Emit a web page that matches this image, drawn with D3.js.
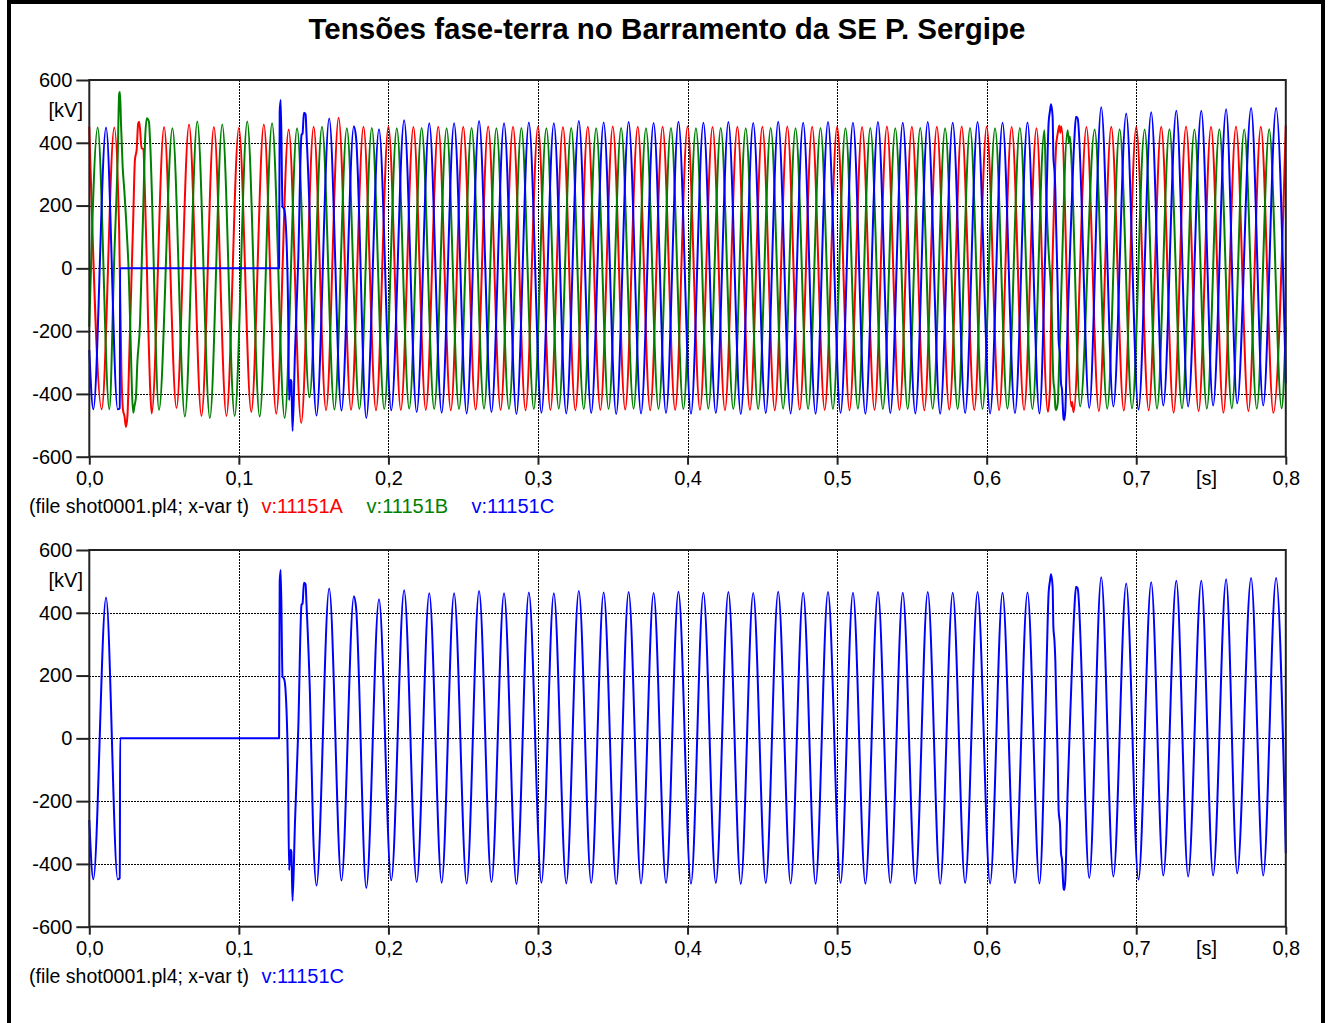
<!DOCTYPE html>
<html><head><meta charset="utf-8">
<script src="https://cdn.jsdelivr.net/npm/d3@7"></script>
<style>
body{margin:0;background:#fff}
svg text{font-family:"Liberation Sans",Arial,sans-serif}
</style>
</head><body>
<svg id="c" width="1328" height="1023"></svg>
<script>
const title = "Tensões fase-terra no Barramento da SE P. Sergipe";
const xTicks = [0,100,200,300,400,500,600,700,800];
const xTickLabels = ["0,0","0,1","0,2","0,3","0,4","0,5","0,6","0,7","0,8"];
const yTicks = [-600,-400,-200,0,200,400,600];
const yUnit = "[kV]";
const xUnit = "[s]";
const fileNote = "(file shot0001.pl4; x-var t)";
const seriesNames = ["v:11151A","v:11151B","v:11151C"];
const seriesColors = ["#ff0000","#008000","#0000ff"];

// [time ms, kV]
const phaseA = [
 [0,451],[8.3,-449],[16.7,449],[20.0,111],[21.5,-334],[22.5,-450],[23.5,-470],[24.5,-505],[25.5,-470],
 [26.9,-250],[28.3,-16],[29.4,164],[30.5,345],[31.7,380],[32.7,462],[33.4,467],[35.0,383],[36.1,380],
 [37.2,239],[38.4,26],[39.4,-186],[40.6,-372],[41.7,-462],
 [50.0,450],[58.3,-445],[66.7,458],[75.0,-470],[83.3,450],[91.7,-470],[100.0,447],[108.3,-458],
 [116.7,458],[125.0,-463],[133.3,442],[141.7,-493],[150.0,451],[158.3,-452],[166.7,480],[175.0,-451],
 [183.3,451],[191.7,-452],[200.0,452],[208.3,-451],[216.7,450],[225.0,-451],[233.3,451],[241.7,-452],
 [250.0,451],[258.3,-450],[266.7,452],[275.0,-451],[283.3,451],[291.7,-452],[300.0,451],[308.3,-451],
 [316.7,450],[325.0,-452],[333.3,451],[341.7,-451],[350.0,452],[358.3,-450],[366.7,451],[375.0,-452],
 [383.3,451],[391.7,-451],[400.0,452],[408.3,-451],[416.7,450],[425.0,-452],[433.3,451],[441.7,-451],
 [450.0,451],[458.3,-452],[466.7,452],[475.0,-450],[483.3,451],[491.7,-451],[500.0,451],[508.3,-452],
 [516.7,450],[525.0,-451],[533.3,452],[541.7,-451],[550.0,451],[558.3,-452],[566.7,451],[575.0,-450],
 [583.3,452],[591.7,-451],[600.0,451],[608.3,-452],[616.7,450],[625.0,-451],[633.3,446],
 [640.9,-457],[642.3,-388],[643.0,-175],[644.1,37],[645.3,249],[646.4,387],[647.5,430],[648.6,455],
 [649.3,432],[650.0,452],[656.6,-440],[657.1,-425],[658.1,-458],
 [666.7,450],[675.0,-455],[683.3,451],[691.7,-453],[700.0,450],[708.3,-452],[716.7,451],[725.0,-460],
 [733.3,452],[741.7,-455],[750.0,451],[758.3,-460],[766.7,452],[775.0,-455],[783.3,451],[791.7,-460],[800.0,455]
];
const phaseB = [
 [0,-186],[5.6,449],[13.4,-449],[16.7,37],[19.0,355],[20.0,557],[20.5,562],[21.2,462],[22.3,324],[23.4,249],
 [24.5,164],[25.7,58],[26.3,-6],[26.7,-69],[27.2,-154],[27.9,-281],[28.5,-388],[29.4,-460],[30.1,-441],
 [31.2,-409],[32.1,-303],[33.9,-175],[35.0,5],[36.1,196],[37.2,398],[38.4,478],[39.9,467],[40.6,409],
 [46.6,-451],[55.6,446],[63.9,-472],[72.2,468],[80.6,-477],[88.9,458],[97.2,-470],[105.6,468],[113.9,-472],
 [122.2,462],[130.6,-477],[138.9,446],[147.2,-411],[155.6,451],[163.9,-450],[172.2,446],[180.6,-448],
 [188.9,447],[197.2,-448],[205.6,446],[213.9,-447],[222.2,447],[230.6,-448],[238.9,446],[247.2,-448],
 [255.6,447],[263.9,-447],[272.2,446],[280.6,-448],[288.9,447],[297.2,-448],[305.6,446],[313.9,-447],
 [322.2,447],[330.6,-448],[338.9,446],[347.2,-448],[355.6,447],[363.9,-447],[372.2,446],[380.6,-448],
 [388.9,447],[397.2,-448],[405.6,446],[413.9,-447],[422.2,447],[430.6,-448],[438.9,446],[447.2,-448],
 [455.6,447],[463.9,-447],[472.2,446],[480.6,-448],[488.9,447],[497.2,-448],[505.6,446],[513.9,-447],
 [522.2,447],[530.6,-448],[538.9,446],[547.2,-448],[555.6,447],[563.9,-447],[572.2,446],[580.6,-448],
 [588.9,447],[597.2,-448],[605.6,446],[613.9,-447],[622.2,447],[630.6,-448],
 [638.6,440],[639.7,249],[640.8,112],[641.9,16],[643.0,-69],[643.7,-175],[644.1,-281],[644.6,-356],
 [645.3,-388],[645.9,-441],[646.4,-451],[647.5,-430],[648.6,-281],[654.1,440],[655.0,400],[655.6,420],[656.4,372],
 [662.5,-440],[672.2,442],[680.6,-447],[688.9,443],[697.2,-446],[705.6,442],[713.9,-447],[722.2,443],
 [730.6,-446],[738.9,442],[747.2,-447],[755.6,443],[763.9,-446],[772.2,442],[780.6,-447],[788.9,443],
 [797.2,-446],[800.0,-186]
];
const phaseC = [
 [0,-260],[2.7,-449],[11.2,449],[19.0,-449],[20.4,-445],[20.6,0],[126.9,0],[127.3,500],[128.0,536],[129.2,196],
 [130.2,190],[131.2,154],[132.9,-122],[133.6,-420],[134.5,-355],[135.1,-360],[135.9,-518],[137.5,-271],
 [139.7,26],[141.9,425],[142.6,430],[143.5,496],[144.6,491],[145.2,431],[147.5,147],[149.7,-305],[151.9,-469],
 [160.4,477],[168.6,-453],[176.9,453],[178.3,420],[185.2,-477],[193.7,443],[201.9,-452],[210.5,472],
 [218.9,-458],[227.3,462],[235.6,-460],[243.9,462],[252.3,-462],[260.6,469],[268.9,-458],[277.3,462],
 [285.6,-464],[293.9,465],[302.3,-460],[310.6,462],[318.9,-462],[327.3,469],[335.6,-461],[343.9,465],
 [352.3,-464],[360.6,466],[368.9,-462],[377.3,463],[385.6,-461],[393.9,467],[402.3,-463],[410.6,464],
 [418.9,-461],[427.3,466],[435.6,-464],[443.9,463],[452.3,-461],[460.6,467],[468.9,-462],[477.3,464],
 [485.6,-463],[493.9,466],[502.3,-461],[510.6,464],[518.9,-463],[527.3,466],[535.6,-461],[543.9,464],
 [552.3,-462],[560.6,466],[568.9,-463],[577.3,464],[585.6,-461],[593.9,466],[602.3,-462],[610.6,464],
 [618.9,-461],[627.3,465],[635.3,-462],
 [639.3,80],[640.8,376],[641.4,462],[642.4,504],[643.0,523],[644.1,483],[644.6,355],[645.3,313],[645.9,249],
 [646.4,143],[647.5,-69],[648.1,-228],[649.1,-281],[649.7,-366],[650.4,-388],[650.8,-430],[651.4,-478],
 [651.9,-483],[652.6,-451],[654.1,-175],[656.4,143],[658.6,409],[659.7,483],[660.8,478],
 [668.6,-445],[676.6,513],[684.7,-440],[693.3,493],[701.5,-450],[710.0,497],[718.1,-437],[726.8,502],
 [734.7,-440],[743.5,502],[751.4,-437],[760.1,507],[767.5,-430],[776.8,511],[784.9,-437],[793.5,511],[800.0,-366]
];

const svg = d3.select("#c");
const FONT = '"Liberation Sans",Arial,sans-serif';

// outer frame
svg.append("rect").attr("x",9).attr("y",2).attr("width",1314).attr("height",1040)
  .attr("fill","none").attr("stroke","#000").attr("stroke-width",4);

svg.append("text").attr("x",667).attr("y",38.5).attr("text-anchor","middle")
  .attr("font-size",29.5).attr("font-weight","bold").attr("fill","#000").text(title);

const x = d3.scaleLinear().domain([0,800]).range([89.3,1285.8]);
const px = v => Math.round(v) + 0.5;

function panel(top, bottom, series) {
  const y = d3.scaleLinear().domain([-600,600]).range([bottom, top]);
  const g = svg.append("g");
  const [x0,x1] = x.range();

  // grid
  g.append("g").selectAll("line").data(xTicks.slice(1,-1)).join("line")
    .attr("x1",d=>px(x(d))).attr("x2",d=>px(x(d))).attr("y1",top).attr("y2",bottom)
    .attr("stroke","#000").attr("stroke-width",1).attr("stroke-dasharray","1.5,1.5")
    .attr("shape-rendering","crispEdges");
  g.append("g").selectAll("line").data(yTicks.slice(1,-1)).join("line")
    .attr("x1",x0).attr("x2",x1).attr("y1",d=>px(y(d))).attr("y2",d=>px(y(d)))
    .attr("stroke","#000").attr("stroke-width",1).attr("stroke-dasharray","1.5,1.5")
    .attr("shape-rendering","crispEdges");

  // curves
  const line = d3.line().x(d=>x(d[0])).y(d=>y(d[1])).curve(d3.curveMonotoneX);
  series.forEach(s => {
    g.append("path").attr("d", line(s.data)).attr("fill","none")
      .attr("stroke", s.color).attr("stroke-width",2).attr("stroke-linejoin","round");
  });

  // frame
  g.append("rect").attr("x",x0).attr("y",top).attr("width",x1-x0).attr("height",bottom-top)
    .attr("fill","none").attr("stroke","#222").attr("stroke-width",2);

  // axes
  const ya = d3.axisLeft(y).tickValues(yTicks).tickSize(13).tickPadding(4).tickFormat(d=>String(d));
  g.append("g").attr("transform",`translate(${x0},0)`).call(ya)
    .call(a=>a.select(".domain").remove())
    .call(a=>a.selectAll("line").attr("stroke","#222").attr("stroke-width",2))
    .call(a=>a.selectAll("text").attr("font-size",20).attr("font-family",FONT).attr("fill","#000"));
  const xa = d3.axisBottom(x).tickValues(xTicks).tickSize(8).tickPadding(6).tickFormat((d,i)=>xTickLabels[i]);
  g.append("g").attr("transform",`translate(0,${bottom})`).call(xa)
    .call(a=>a.select(".domain").remove())
    .call(a=>a.selectAll("line").attr("stroke","#222").attr("stroke-width",2))
    .call(a=>a.selectAll("text").attr("font-size",20).attr("font-family",FONT).attr("fill","#000"));

  g.append("text").attr("x",83).attr("y",top+37).attr("text-anchor","end")
    .attr("font-size",20).attr("fill","#000").text(yUnit);
  g.append("text").attr("x",x(747)).attr("y",bottom+28.5).attr("text-anchor","middle")
    .attr("font-size",20).attr("fill","#000").text(xUnit);

  // legend
  const ly = bottom + 56.5;
  g.append("text").attr("x",29).attr("y",ly).attr("font-size",19.5).attr("fill","#000").text(fileNote);
  const lx = [261.4, 366.6, 471.5];
  series.forEach((s,i) => {
    g.append("text").attr("x", lx[i]).attr("y",ly)
      .attr("font-size",20).attr("fill",s.color).text(s.name);
  });
}

const allSeries = [phaseA, phaseB, phaseC].map((d,i)=>({data:d, name:seriesNames[i], color:seriesColors[i]}));
panel(80, 456.7, allSeries);
panel(550, 926.7, [allSeries[2]]);
</script>
</body></html>
